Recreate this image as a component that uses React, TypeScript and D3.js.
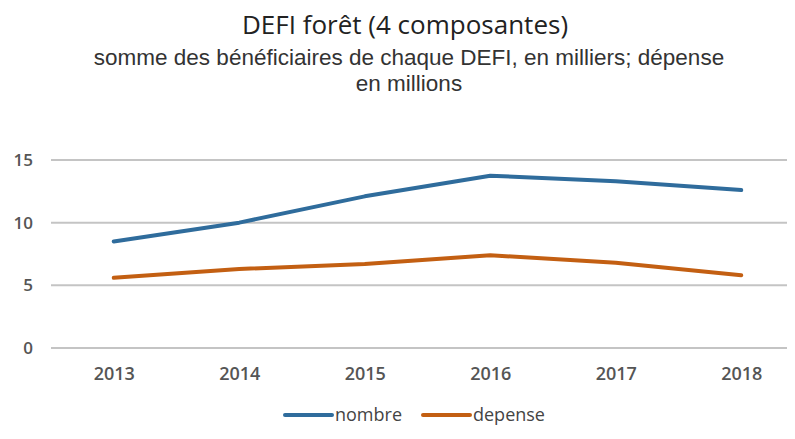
import React, { useEffect, useRef } from "react";
import * as d3 from "d3";

const years = ["2013", "2014", "2015", "2016", "2017", "2018"];
const nombre = [8.5, 10.0, 12.1, 13.75, 13.3, 12.6];
const depense = [5.6, 6.3, 6.7, 7.4, 6.8, 5.8];
const yTicks = [0, 5, 10, 15];
const seriesNames = ["nombre", "depense"];
const seriesColors = ["#2F6C9C", "#C35F12"];
const subtitleLines = [
  "somme des bénéficiaires de chaque DEFI, en milliers; dépense",
  "en millions",
];

function App() {
  const canvas = useRef<HTMLDivElement>(null);

  const drawChart = () => {
    const width = 795;
    const height = 439;
    const margin = { top: 160, left: 51, bottom: 91, right: -9 };
    const uWidth = width - margin.left - margin.right;
    const uHeight = height - margin.top - margin.bottom;
    const font = "'Open Sans', 'Liberation Sans', sans-serif";
    const subFont = "'Liberation Sans', Arial, sans-serif";

    d3.select(canvas.current).selectAll("*").remove();

    const svg = d3
      .select(canvas.current)
      .append("svg")
      .attr("width", width)
      .attr("height", height)
      .style("display", "block")
      .style("background", "#fff");

    const g = svg
      .append("g")
      .attr("transform", `translate(${margin.left},${margin.top})`);

    const x = d3.scalePoint().domain(years).range([0, uWidth]).padding(0.5);
    const y = d3.scaleLinear().domain([0, 15]).range([uHeight, 0]);

    // grid
    g.selectAll("line.grid")
      .data(yTicks)
      .enter()
      .append("line")
      .attr("class", "grid")
      .attr("x1", 0)
      .attr("x2", uWidth)
      .attr("y1", (d) => y(d))
      .attr("y2", (d) => y(d))
      .style("stroke", "#c4c4c4")
      .style("stroke-width", 2);

    const yAxis = g
      .append("g")
      .call(d3.axisLeft(y).tickValues(yTicks).tickSize(0).tickPadding(18));
    yAxis.select(".domain").remove();
    yAxis
      .selectAll("text")
      .style("font-family", font)
      .style("font-size", "17px")
      .style("font-weight", "600")
      .style("fill", "#555");

    const xAxis = g
      .append("g")
      .attr("transform", `translate(0,${uHeight})`)
      .call(d3.axisBottom(x).tickSize(0).tickPadding(19));
    xAxis.select(".domain").remove();
    xAxis
      .selectAll("text")
      .style("font-family", font)
      .style("font-size", "18px")
      .style("font-weight", "600")
      .style("fill", "#555");

    const line = d3
      .line<number>()
      .x((d, i) => x(years[i]) as number)
      .y((d) => y(d));

    [nombre, depense].forEach((values, i) => {
      g.append("path")
        .datum(values)
        .attr("d", line)
        .style("fill", "none")
        .style("stroke", seriesColors[i])
        .style("stroke-width", 4)
        .style("stroke-linejoin", "round")
        .style("stroke-linecap", "round");
    });

    // titles
    svg
      .append("text")
      .attr("x", 405)
      .attr("y", 34)
      .attr("text-anchor", "middle")
      .style("font-family", font)
      .style("font-size", "26px")
      .style("fill", "#222")
      .text("DEFI forêt (4 composantes)");

    svg
      .append("g")
      .selectAll("text")
      .data(subtitleLines)
      .enter()
      .append("text")
      .attr("text-anchor", "middle")
      .attr("x", 409)
      .attr("y", (d, i) => 65 + i * 26)
      .style("font-family", subFont)
      .style("font-size", "22.5px")
      .style("fill", "#333")
      .text((d) => d);

    // legend
    const legendX = [285, 423];
    const legend = svg
      .append("g")
      .selectAll("g")
      .data(seriesNames)
      .enter()
      .append("g")
      .attr("transform", (d, i) => `translate(${legendX[i]},415)`);

    legend
      .append("line")
      .attr("x1", 0)
      .attr("x2", 47)
      .style("stroke", (d, i) => seriesColors[i])
      .style("stroke-width", 4)
      .style("stroke-linecap", "round");

    legend
      .append("text")
      .attr("x", 50)
      .attr("y", 6)
      .style("font-family", font)
      .style("font-size", "18px")
      .style("fill", "#444")
      .text((d) => d);
  };

  useEffect(() => {
    drawChart();
  }, []);

  return <div ref={canvas} style={{ margin: "-8px" }}></div>;
}

export default App;
